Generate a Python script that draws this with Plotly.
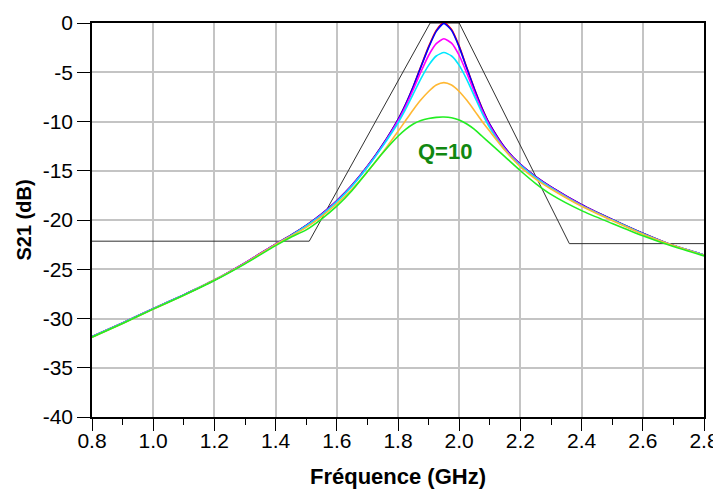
import plotly.graph_objects as go

# Frequency grid (GHz)
freq = [0.8, 0.9, 1.0, 1.1, 1.2, 1.3, 1.4, 1.45, 1.5, 1.55, 1.6, 1.65, 1.7, 1.75,
        1.8, 1.825, 1.85, 1.875, 1.9, 1.925, 1.95, 1.975, 2.0, 2.025, 2.05, 2.075,
        2.1, 2.15, 2.2, 2.25, 2.3, 2.4, 2.5, 2.6, 2.7, 2.8]

s21_red = [-31.85, -30.45, -29.0, -27.6, -26.1, -24.35, -22.45, -21.55, -20.55, -19.4, -18.05,
           -16.45, -14.55, -12.35, -9.8, -8.25, -6.45, -4.4, -2.4, -0.75, 0.05, -0.65, -2.35,
           -4.55, -6.7, -8.65, -10.3, -12.7, -14.35, -15.6, -16.65, -18.45, -19.95, -21.35, -22.6, -23.55]
s21_blue = [-31.85, -30.45, -29.0, -27.6, -26.1, -24.35, -22.45, -21.55, -20.55, -19.4, -18.05,
            -16.45, -14.55, -12.35, -9.8, -8.25, -6.45, -4.45, -2.5, -0.85, -0.05, -0.75, -2.45,
            -4.6, -6.75, -8.7, -10.3, -12.7, -14.35, -15.6, -16.65, -18.45, -19.95, -21.35, -22.6, -23.55]
s21_magenta = [-31.85, -30.45, -29.0, -27.6, -26.1, -24.35, -22.45, -21.6, -20.6, -19.45, -18.1,
               -16.5, -14.6, -12.45, -9.95, -8.45, -6.75, -4.95, -3.3, -2.1, -1.6, -2.05, -3.3,
               -5.1, -7.05, -8.9, -10.45, -12.8, -14.4, -15.65, -16.7, -18.5, -20.0, -21.4, -22.6, -23.55]
s21_cyan = [-31.85, -30.45, -29.0, -27.6, -26.1, -24.4, -22.5, -21.6, -20.6, -19.5, -18.15,
            -16.55, -14.65, -12.5, -10.15, -8.75, -7.2, -5.65, -4.3, -3.35, -3.0, -3.35, -4.3,
            -5.75, -7.45, -9.15, -10.65, -12.9, -14.45, -15.7, -16.75, -18.55, -20.0, -21.4, -22.6, -23.55]
s21_orange = [-31.9, -30.5, -29.05, -27.65, -26.1, -24.4, -22.5, -21.65, -20.75, -19.65, -18.35,
              -16.85, -15.1, -13.15, -11.0, -9.9, -8.8, -7.8, -6.95, -6.3, -6.05, -6.3, -6.95,
              -7.85, -8.9, -10.0, -11.0, -12.95, -14.6, -15.85, -16.85, -18.6, -20.05, -21.45, -22.6, -23.6]
s21_green = [-31.9, -30.5, -29.05, -27.65, -26.15, -24.45, -22.6, -21.75, -21.0, -19.9, -18.6,
             -17.0, -15.1, -13.2, -11.5, -10.8, -10.25, -9.9, -9.7, -9.58, -9.55, -9.62, -9.85,
             -10.25, -10.8, -11.5, -12.2, -13.6, -15.0, -16.3, -17.4, -19.05, -20.35, -21.6, -22.7, -23.65]

# Template (mask)
mask_f = [0.8, 1.51, 1.905, 2.0, 2.36, 2.8]
mask_db = [-22.15, -22.15, 0.0, 0.0, -22.4, -22.4]

x_ticks = [0.8, 1.0, 1.2, 1.4, 1.6, 1.8, 2.0, 2.2, 2.4, 2.6, 2.8]
x_ticklabels = ["0.8", "1.0", "1.2", "1.4", "1.6", "1.8", "2.0", "2.2", "2.4", "2.6", "2.8"]
y_ticks = [0, -5, -10, -15, -20, -25, -30, -35, -40]
y_ticklabels = ["0", "-5", "-10", "-15", "-20", "-25", "-30", "-35", "-40"]

series = [
    ("Q4", s21_red, "#ff0000"),
    ("Q5", s21_blue, "#0000ff"),
    ("Q3", s21_magenta, "#ff00ff"),
    ("Q2", s21_cyan, "#00e8ff"),
    ("Q1", s21_orange, "#ffb833"),
    ("Q=10", s21_green, "#22ee22"),
]

fig = go.Figure()
fig.add_trace(go.Scatter(x=mask_f, y=mask_db, mode="lines",
                         line=dict(color="#303030", width=1), showlegend=False))
for name, vals, col in series:
    fig.add_trace(go.Scatter(x=freq, y=vals, mode="lines", name=name,
                             line=dict(color=col, width=1.6, shape="spline", smoothing=0.6),
                             showlegend=False))

fig.add_annotation(x=1.954, y=-13.0, text="<b>Q=10</b>", showarrow=False,
                   font=dict(family="Liberation Sans, Arial", size=22, color="#118811"))

# page body has an 8px default margin: size the figure so the plot lands where the reference has it
fig.update_layout(
    width=713, height=484,
    margin=dict(l=84, r=17, t=15, b=75),
    paper_bgcolor="white", plot_bgcolor="white",
    font=dict(family="Liberation Sans, Arial", size=21, color="black"),
    showlegend=False,
)
fig.update_xaxes(
    range=[0.8, 2.8], tickvals=x_ticks, ticktext=x_ticklabels, automargin=False,
    showgrid=True, gridcolor="#c4c4c4", gridwidth=1.5,
    showline=True, linecolor="black", linewidth=1.5, mirror=True,
    ticks="outside", ticklen=12, tickcolor="black", tickwidth=1.2,
    ticklabelstandoff=-8,
    minor=dict(dtick=0.1, tick0=0.8, ticks="outside", ticklen=6, tickcolor="black", showgrid=False),
    zeroline=False,
    title=dict(text="<b>Fréquence (GHz)</b>", font=dict(size=22), standoff=18),
)
fig.update_yaxes(
    range=[-40, 0], tickvals=y_ticks, ticktext=y_ticklabels, automargin=False,
    showgrid=True, gridcolor="#c4c4c4", gridwidth=1.5,
    showline=True, linecolor="black", linewidth=1.5, mirror=True,
    ticks="outside", ticklen=13, tickcolor="black", tickwidth=1.2,
    zeroline=False,
    title=dict(text="<b>S21 (dB)</b>", font=dict(size=20), standoff=6),
)

fig.write_html("out.html")
